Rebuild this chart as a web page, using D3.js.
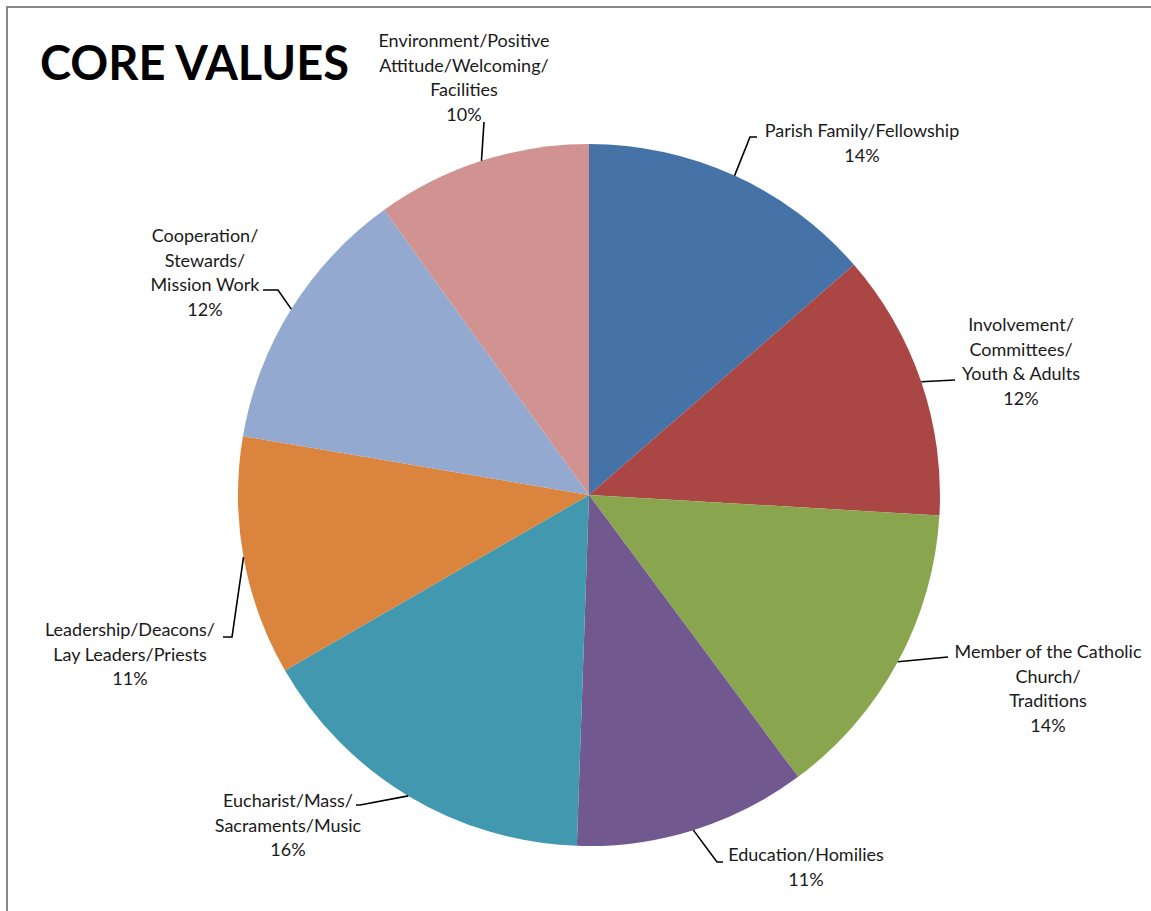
<!DOCTYPE html>
<html><head><meta charset="utf-8">
<script src="https://cdn.jsdelivr.net/npm/d3@7"></script>
<style>
html,body{margin:0;padding:0;background:#fff;}
svg{display:block;}
</style>
</head><body>
<svg id="chart" width="1151" height="911"></svg>
<script>
// ---- data ----
const categories = [
  ["Parish Family/Fellowship"],
  ["Involvement/", "Committees/", "Youth & Adults"],
  ["Member of the Catholic", "Church/", "Traditions"],
  ["Education/Homilies"],
  ["Eucharist/Mass/", "Sacraments/Music"],
  ["Leadership/Deacons/", "Lay Leaders/Priests"],
  ["Cooperation/", "Stewards/", "Mission Work"],
  ["Environment/Positive", "Attitude/Welcoming/", "Facilities"]
];
const values = [13.6, 12.3, 13.9, 10.7, 16.1, 11.0, 12.4, 9.9];
const colors = ["#4572A7", "#AA4643", "#89A54E", "#71588F", "#4198AF", "#DB843D", "#93A9CF", "#D19392"];
const title = "CORE VALUES";

// ---- layout (label placement, pixels) ----
const labelLayout = [
  {x: 862, y: 137, line: [[750,137],[757,137]]},
  {x: 1021, y: 331, line: [[955,380]]},
  {x: 1048, y: 658, line: [[948,657]]},
  {x: 806, y: 861, line: [[717,862],[723,862]]},
  {x: 288, y: 807, line: [[360,805],[356,805]]},
  {x: 130, y: 636, line: [[232,637],[223,637]]},
  {x: 205, y: 242, line: [[278,290],[263,290]]},
  {x: 464, y: 47, line: [[484,122]]}
];

const svg = d3.select("#chart");
const W = 1151, H = 911;
svg.append("rect").attr("x",0).attr("y",0).attr("width",W).attr("height",H).attr("fill","#fff");
// border
svg.append("path").attr("d", `M7,${H} L7,7 L${W},7`).attr("fill","none").attr("stroke","#888").attr("stroke-width",2);

const cx = 589, cy = 495, R = 351;
const total = d3.sum(values);
const pie = d3.pie().sort(null).value(d => d)(values);
const arc = d3.arc().innerRadius(0).outerRadius(R);
const g = svg.append("g").attr("transform", `translate(${cx},${cy})`);
g.selectAll("path.slice").data(pie).join("path")
  .attr("class","slice")
  .attr("d", arc)
  .attr("fill", (d,i) => colors[i]);

const fmt = v => Math.round(v / total * 100) + "%";
const lh = 24.5;
const labels = svg.append("g").attr("font-family","Lato, 'Open Sans', sans-serif").attr("font-size",18).attr("fill","#1a1a1a");
pie.forEach((d,i) => {
  const L = labelLayout[i];
  const mid = (d.startAngle + d.endAngle) / 2;
  const p0 = [cx + R * Math.sin(mid), cy - R * Math.cos(mid)];
  const pts = [p0, ...L.line];
  svg.append("path").attr("d", d3.line()(pts)).attr("fill","none").attr("stroke","#000").attr("stroke-width",1.6);
  const lines = [...categories[i], fmt(values[i])];
  const t = labels.append("text").attr("text-anchor","middle");
  lines.forEach((s,k) => {
    t.append("tspan").attr("x", L.x).attr("y", L.y + k*lh).text(s);
  });
});

svg.append("text").attr("x", 40).attr("y", 80)
  .attr("font-family","Lato, 'Open Sans', sans-serif").attr("font-weight","bold")
  .attr("font-size", 47).attr("fill","#000").text(title);
</script>
</body></html>
